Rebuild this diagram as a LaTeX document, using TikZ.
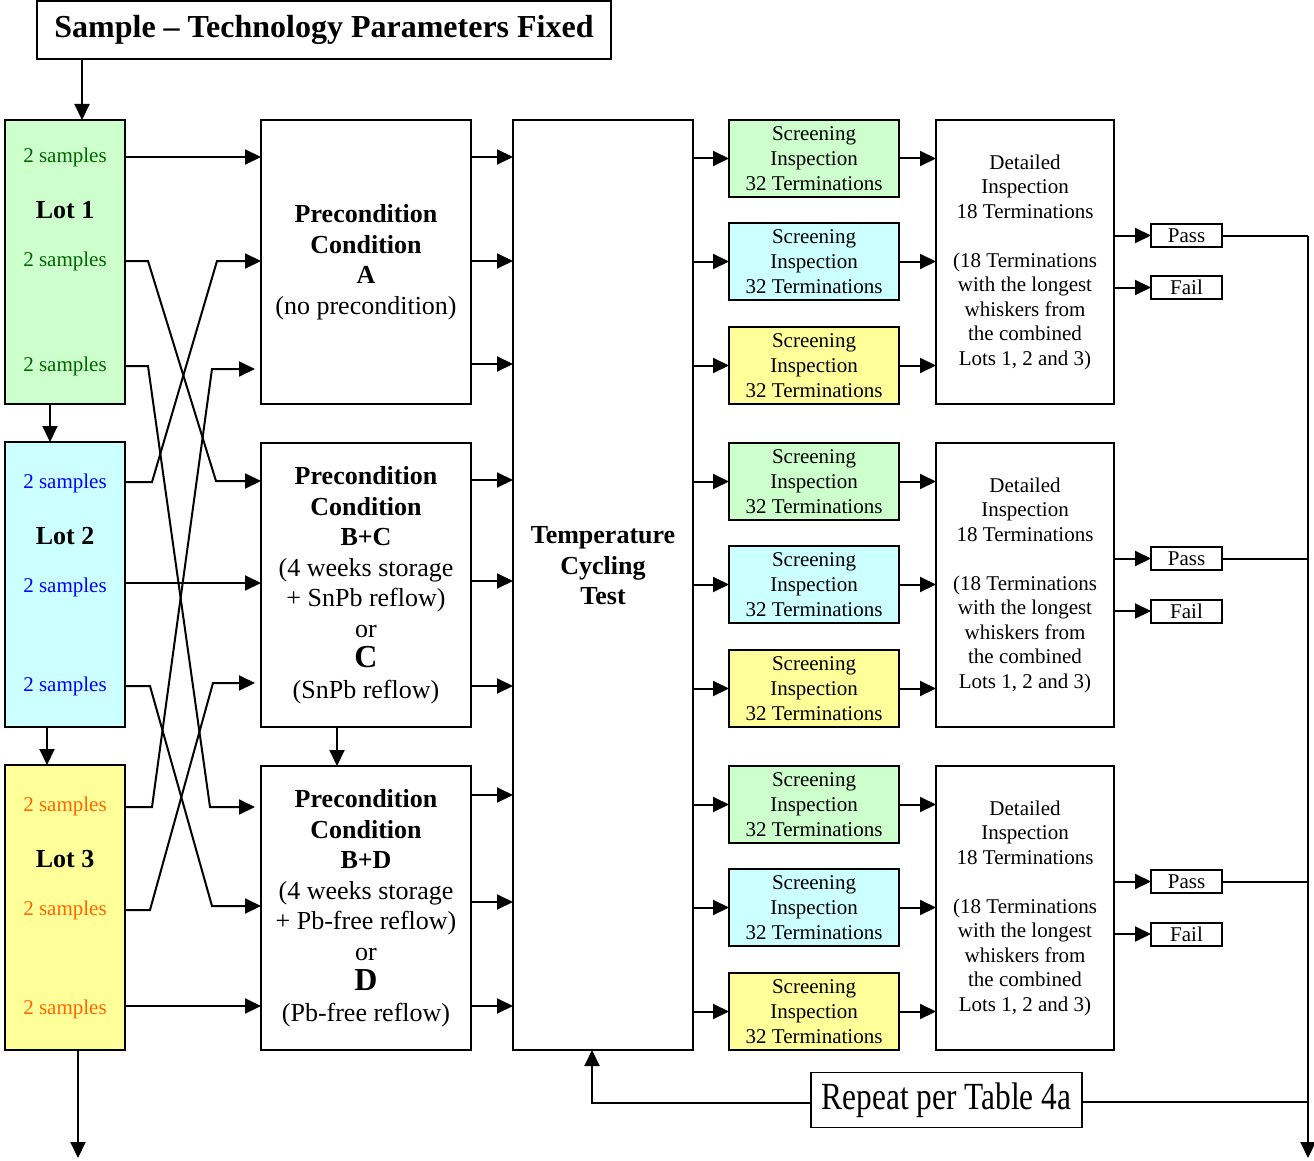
\documentclass[tikz,border=0pt]{standalone}
\usepackage{fontspec}
\setmainfont{Liberation Serif}
\usetikzlibrary{arrows.meta}
\definecolor{lgreen}{HTML}{CCFFCC}
\definecolor{lcyan}{HTML}{CCFFFF}
\definecolor{lyellow}{HTML}{FFFF99}
\definecolor{dgreen}{HTML}{006600}
\definecolor{sblue}{HTML}{0000FF}
\definecolor{sorange}{HTML}{FF6600}
\begin{document}
\begin{tikzpicture}[x=1pt,y=-1pt,
 box/.style={draw=black, line width=2pt, rectangle, inner sep=0pt, outer sep=0pt},
 arr/.style={-{Triangle[length=16pt,width=15pt]}, line width=2pt},
 ln/.style={line width=2pt},
 samp/.style={font=\fontsize{21}{25}\selectfont, inner sep=0pt},
 lot/.style={font=\bfseries\fontsize{26}{30}\selectfont, inner sep=0pt},
 lotbox/.style={box, minimum width=120pt, minimum height=284pt},
 pre/.style={box, minimum width=210pt, minimum height=284pt, align=center, font=\fontsize{26}{30.5}\selectfont},
 scr/.style={box, minimum width=170pt, minimum height=77pt, align=center, font=\fontsize{21}{25}\selectfont},
 det/.style={box, minimum width=178pt, minimum height=284pt, align=center, font=\fontsize{21}{24.5}\selectfont},
 pf/.style={box, minimum width=71pt, minimum height=23pt, font=\fontsize{21}{25}\selectfont}]
\useasboundingbox (0,0) rectangle (1314,1161);
\fill[white] (0,0) rectangle (1314,1161);

% title
\node[box, minimum width=574pt, minimum height=58pt, font=\bfseries\fontsize{32}{36}\selectfont] (title) at (324,30) {Sample – Technology Parameters Fixed};

% lots
\node[lotbox, fill=lgreen] (lot1) at (65,262) {};
\node[lotbox, fill=lcyan, minimum height=285pt] (lot2) at (65,584.5) {};
\node[lotbox, fill=lyellow, minimum height=285pt] (lot3) at (65,907.5) {};

\node[samp, text=dgreen] (l1a) at (65,157) {2 samples};
\node[lot] (lot1t) at (65,210) {Lot 1};
\node[samp, text=dgreen] (l1b) at (65,261) {2 samples};
\node[samp, text=dgreen] (l1c) at (65,366) {2 samples};

\node[samp, text=sblue] (l2a) at (65,483) {2 samples};
\node[lot] (lot2t) at (65,536) {Lot 2};
\node[samp, text=sblue] (l2b) at (65,587) {2 samples};
\node[samp, text=sblue] (l2c) at (65,686) {2 samples};

\node[samp, text=sorange] (l3a) at (65,806) {2 samples};
\node[lot] (lot3t) at (65,859) {Lot 3};
\node[samp, text=sorange] (l3b) at (65,910) {2 samples};
\node[samp, text=sorange] (l3c) at (65,1009) {2 samples};

% preconditions
\node[pre] (A) at (366,262) {\textbf{Precondition}\\\textbf{Condition}\\\textbf{A}\\(no precondition)};
\node[pre] (B) at (366,585) {\textbf{Precondition}\\\textbf{Condition}\\\textbf{B+C}\\(4 weeks storage\\+ SnPb reflow)\\or\\{\fontsize{32}{34}\selectfont\textbf{C}}\\(SnPb reflow)};
\node[pre] (C) at (366,908) {\textbf{Precondition}\\\textbf{Condition}\\\textbf{B+D}\\(4 weeks storage\\+ Pb-free reflow)\\or\\{\fontsize{32}{34}\selectfont\textbf{D}}\\(Pb-free reflow)};

% temperature
\node[box, minimum width=180pt, minimum height=930pt] (T) at (603,585) {};
\node[align=center, inner sep=0pt, font=\bfseries\fontsize{26}{30.5}\selectfont] (Tt) at (603,566) {Temperature\\Cycling\\Test};

% screening
\node[scr, fill=lgreen] (s11) at (814,158.5) {Screening\\Inspection\\32 Terminations};
\node[scr, fill=lcyan] (s12) at (814,261.5) {Screening\\Inspection\\32 Terminations};
\node[scr, fill=lyellow] (s13) at (814,365.5) {Screening\\Inspection\\32 Terminations};
\node[scr, fill=lgreen] (s21) at (814,481.5) {Screening\\Inspection\\32 Terminations};
\node[scr, fill=lcyan] (s22) at (814,584.5) {Screening\\Inspection\\32 Terminations};
\node[scr, fill=lyellow] (s23) at (814,688.5) {Screening\\Inspection\\32 Terminations};
\node[scr, fill=lgreen] (s31) at (814,804.5) {Screening\\Inspection\\32 Terminations};
\node[scr, fill=lcyan] (s32) at (814,907.5) {Screening\\Inspection\\32 Terminations};
\node[scr, fill=lyellow] (s33) at (814,1011.5) {Screening\\Inspection\\32 Terminations};

% detailed
\foreach \n/\y in {d1/262, d2/585, d3/908}{
  \node[det] (\n) at (1025,\y) {Detailed\\Inspection\\18 Terminations\\[24.5pt](18 Terminations\\with the longest\\whiskers from\\the combined\\Lots 1, 2 and 3)};
}

% pass / fail
\node[pf] (p1) at (1186.5,235.5) {Pass};
\node[pf] (f1) at (1186.5,287.5) {Fail};
\node[pf] (p2) at (1186.5,558.5) {Pass};
\node[pf] (f2) at (1186.5,611) {Fail};
\node[pf] (p3) at (1186.5,881.5) {Pass};
\node[pf] (f3) at (1186.5,934) {Fail};

% repeat
\node[box, line width=1.6pt, minimum width=271pt, minimum height=55pt, font=\fontsize{32}{34}\selectfont] (rep) at (946.5,1100) {\raisebox{-5pt}{\scalebox{0.98}[1.2]{Repeat per Table 4a}}};

\coordinate (vtop) at (1308,235.5);
\coordinate (vbot) at (1308,1158);
\coordinate (lotend) at (78,1158);

% vertical arrows
\draw[arr] (title.south -| 82,0) -- (lot1.north -| 82,0);
\draw[arr] (lot1.south -| 50,0) -- (lot2.north -| 50,0);
\draw[arr] (lot2.south -| 47,0) -- (lot3.north -| 47,0);
\draw[arr] (lot3.south -| lotend) -- (lotend);
\draw[arr] (B.south -| 337,0) -- (C.north -| 337,0);

% lots to preconditions
\draw[arr] (lot1.east |- 0,157) -- (A.west |- 0,157);
\draw[arr] (lot1.east |- 0,261) -- (148,261) -- (216,481) -- (B.west |- 0,481);
\draw[arr] (lot1.east |- 0,366) -- (148,366) -- (210,807) -- ([xshift=-6pt]C.west |- 0,807);
\draw[arr] (lot2.east |- 0,482) -- (152,482) -- (217,261) -- (A.west |- 0,261);
\draw[arr] (lot2.east |- 0,583) -- (B.west |- 0,583);
\draw[arr] (lot2.east |- 0,686) -- (150,686) -- (212,906) -- (C.west |- 0,906);
\draw[arr] (lot3.east |- 0,807) -- (152,807) -- (212,369) -- ([xshift=-6pt]A.west |- 0,369);
\draw[arr] (lot3.east |- 0,910) -- (150,910) -- (213,683) -- ([xshift=-6pt]B.west |- 0,683);
\draw[arr] (lot3.east |- 0,1006) -- (C.west |- 0,1006);

% preconditions to temperature
\foreach \y in {157,261,364}{\draw[arr] (A.east |- 0,\y) -- (T.west |- 0,\y);}
\foreach \y in {480,581,686}{\draw[arr] (B.east |- 0,\y) -- (T.west |- 0,\y);}
\foreach \y in {795,902,1006}{\draw[arr] (C.east |- 0,\y) -- (T.west |- 0,\y);}

% temperature to screening to detailed
\foreach \s/\d in {s11/d1,s12/d1,s13/d1,s21/d2,s22/d2,s23/d2,s31/d3,s32/d3,s33/d3}{
  \draw[arr] (T.east |- \s) -- (\s.west);
  \draw[arr] (\s.east) -- (\d.west |- \s);
}

% detailed to pass/fail
\foreach \d/\p/\f in {d1/p1/f1,d2/p2/f2,d3/p3/f3}{
  \draw[arr] (\d.east |- \p) -- (\p.west);
  \draw[arr] (\d.east |- \f) -- (\f.west);
}

% pass lines to right
\draw[ln] (p1.east) -- (vtop);
\draw[ln] (p2.east) -- (vtop |- p2);
\draw[ln] (p3.east) -- (vtop |- p3);
\draw[arr] (vtop) -- (vbot);

% repeat
\draw[ln] (rep.east |- 0,1102) -- (vtop |- 0,1102);
\draw[arr] (rep.west |- 0,1103) -| (T.south -| 592,0);
\end{tikzpicture}
\end{document}
